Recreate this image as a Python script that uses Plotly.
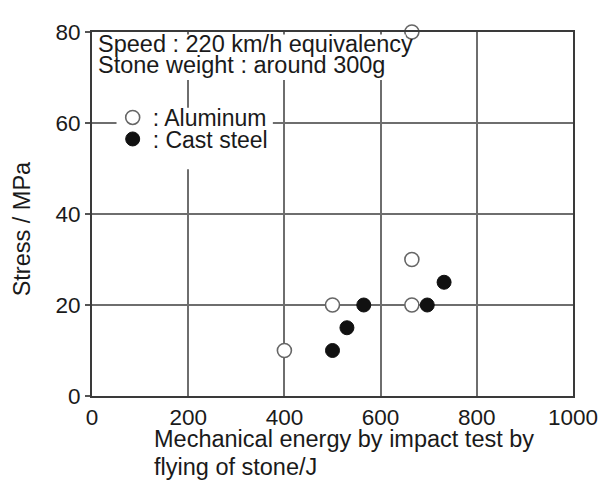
import plotly.graph_objects as go

# Data
alu_energy = [400, 500, 665, 665, 665]
alu_stress = [10, 20, 20, 30, 80]
steel_energy = [500, 530, 565, 697, 732]
steel_stress = [10, 15, 20, 20, 25]

x_ticks = [0, 200, 400, 600, 800, 1000]
y_ticks = [0, 20, 40, 60, 80]

FONT = "Liberation Sans, Arial, sans-serif"
TXT = "#1a1a1a"

fig = go.Figure()
fig.add_trace(go.Scatter(
    x=alu_energy, y=alu_stress, mode="markers", name=": Aluminum",
    marker=dict(size=14, color="white", line=dict(color="#666", width=1.6)),
    cliponaxis=False, legend="legend",
))
fig.add_trace(go.Scatter(
    x=steel_energy, y=steel_stress, mode="markers", name=": Cast steel",
    marker=dict(size=14, color="#111", line=dict(color="#111", width=1)),
    cliponaxis=False, legend="legend2",
))

# white boxes behind the condition text and the legend (cover grid lines)
fig.add_shape(type="rect", xref="paper", yref="paper",
              x0=0.006, x1=0.652, y0=0.868, y1=0.993,
              fillcolor="white", line=dict(width=0), layer="above")
fig.add_shape(type="rect", xref="paper", yref="paper",
              x0=0.051, x1=0.376, y0=0.623, y1=0.792,
              fillcolor="white", line=dict(width=0), layer="above")

fig.add_annotation(text="Speed : 220 km/h equivalency", xref="paper", yref="paper",
                   x=0.008, y=0.967, xanchor="left", yanchor="middle", showarrow=False,
                   font=dict(family=FONT, size=23.5, color=TXT))
fig.add_annotation(text="Stone weight : around 300g", xref="paper", yref="paper",
                   x=0.008, y=0.910, xanchor="left", yanchor="middle", showarrow=False,
                   font=dict(family=FONT, size=23.5, color=TXT))

# axis titles
fig.add_annotation(text="Stress / MPa", xref="paper", yref="paper",
                   x=-0.146, y=0.46, xanchor="center", yanchor="middle", showarrow=False,
                   textangle=-90, font=dict(family=FONT, size=23.5, color=TXT))
fig.add_annotation(text="Mechanical energy by impact test by",
                   xref="paper", yref="paper", x=0.124, y=-0.1186, xanchor="left",
                   yanchor="middle", showarrow=False,
                   font=dict(family=FONT, size=23.5, color=TXT))
fig.add_annotation(text="flying of stone/J",
                   xref="paper", yref="paper", x=0.124, y=-0.194, xanchor="left",
                   yanchor="middle", showarrow=False,
                   font=dict(family=FONT, size=23.5, color=TXT))

axis_common = dict(
    showgrid=True, gridcolor="#6e6e6e", gridwidth=1.5,
    showline=True, linecolor="#3a3a3a", linewidth=2, mirror=True,
    zeroline=False,
    tickfont=dict(family=FONT, size=22.5, color=TXT),
)
fig.update_xaxes(range=[0, 1000], tickvals=x_ticks, ticks="", **axis_common)
fig.update_yaxes(range=[0, 80], tickvals=y_ticks, ticks="outside", ticklen=5,
                 tickcolor="#555", tickwidth=1.5, **axis_common)

legend_common = dict(xanchor="left", yanchor="middle", bgcolor="rgba(0,0,0,0)",
                     borderwidth=0, font=dict(family=FONT, size=23, color=TXT))
fig.update_layout(
    width=602, height=475,
    margin=dict(l=84, r=26, t=17, b=87),
    paper_bgcolor="white", plot_bgcolor="white",
    showlegend=True,
    legend=dict(x=0.043, y=0.765, **legend_common),
    legend2=dict(x=0.043, y=0.706, **legend_common),
)

fig.write_html("out.html")
